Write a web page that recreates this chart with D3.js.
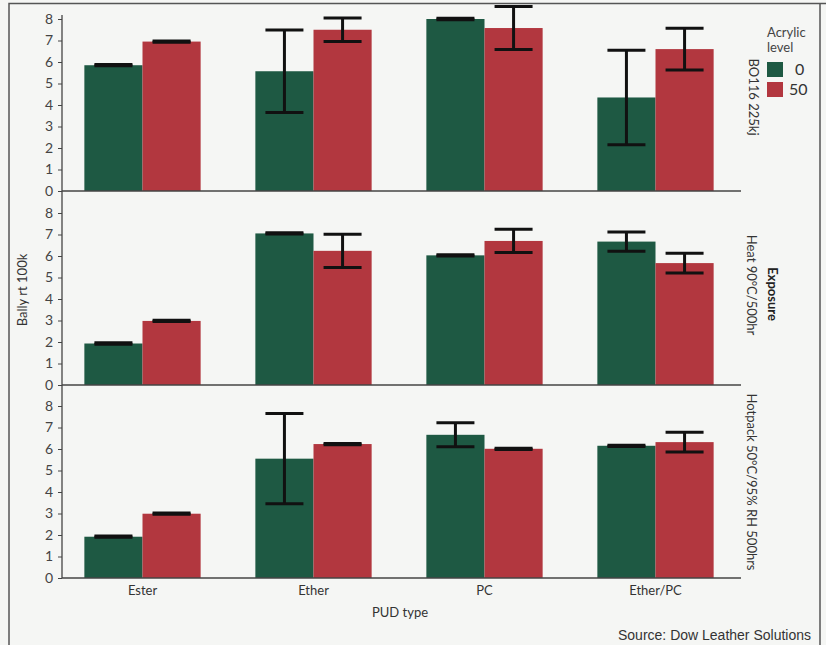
<!DOCTYPE html>
<html>
<head>
<meta charset="utf-8">
<script src="https://cdn.jsdelivr.net/npm/d3@7/dist/d3.min.js"></script>
<style>
  html, body { margin: 0; padding: 0; background: #f5f6f4; }
  svg { display: block; }
  text { font-family: Lato, "Open Sans", sans-serif; }
</style>
</head>
<body>
<svg id="chart" width="826" height="645"></svg>
<script>
// Bally flex (rt, 100k cycles) by PUD type, acrylic level and exposure
const categories = ["Ester", "Ether", "PC", "Ether/PC"];
const exposures = ["BO116 225kj", "Heat 90°C/500hr", "Hotpack 50°C/95% RH 500hrs"];
const acrylicLevels = ["0", "50"];

// mean values, one row per exposure, one entry per PUD type
const acrylic0Mean = [
  [5.85, 5.57, 8.00, 4.35],
  [1.93, 7.05, 6.03, 6.67],
  [1.92, 5.55, 6.66, 6.15]
];
const acrylic0Err = [
  [0.03, 1.92, 0.03, 2.20],
  [0.03, 0.03, 0.03, 0.45],
  [0.03, 2.10, 0.56, 0.03]
];
const acrylic50Mean = [
  [6.95, 7.50, 7.58, 6.60],
  [2.98, 6.24, 6.70, 5.67],
  [2.99, 6.23, 6.01, 6.32]
];
const acrylic50Err = [
  [0.03, 0.55, 1.00, 0.97],
  [0.03, 0.77, 0.54, 0.46],
  [0.03, 0.03, 0.03, 0.46]
];
const yTicks = [0, 1, 2, 3, 4, 5, 6, 7, 8];

const colors = { "0": "#1e5943", "50": "#b2373f" };
const svg = d3.select("#chart");

// page frame
svg.append("path")
  .attr("d", "M9,645 V3.5 H826 M820,3.5 V645")
  .attr("fill", "none").attr("stroke", "#555").attr("stroke-width", 1.5);

const axisX0 = 62, axisX1 = 741;
const panelBase = [191, 385, 578];   // pixel y of value 0 in each panel
const panelTop = [15, 191, 385];     // where each panel's y axis line starts
const unitPx = 21.5;

const x = d3.scaleBand().domain(categories).range([57, 741])
  .paddingInner(0.32).paddingOuter(0.16);
const xs = d3.scaleBand().domain(acrylicLevels).range([0, x.bandwidth()]);

exposures.forEach((exp, pi) => {
  const y = d3.scaleLinear().domain([0, 8])
    .range([panelBase[pi], panelBase[pi] - 8 * unitPx]);
  const g = svg.append("g");

  const rows = [];
  categories.forEach((c, ci) => {
    rows.push({ cat: c, lvl: "0", v: acrylic0Mean[pi][ci], e: acrylic0Err[pi][ci] });
    rows.push({ cat: c, lvl: "50", v: acrylic50Mean[pi][ci], e: acrylic50Err[pi][ci] });
  });

  // bars
  g.selectAll("rect.bar").data(rows).join("rect")
    .attr("class", "bar")
    .attr("x", d => x(d.cat) + xs(d.lvl))
    .attr("width", xs.bandwidth())
    .attr("y", d => y(d.v))
    .attr("height", d => y(0) - y(d.v))
    .attr("fill", d => colors[d.lvl]);

  // error bars
  const capHalf = 19;
  const eb = g.selectAll("g.err").data(rows).join("g").attr("class", "err")
    .attr("stroke", "#111").attr("stroke-width", 3).attr("fill", "none");
  eb.append("line")
    .attr("x1", d => x(d.cat) + xs(d.lvl) + xs.bandwidth() / 2)
    .attr("x2", d => x(d.cat) + xs(d.lvl) + xs.bandwidth() / 2)
    .attr("y1", d => y(d.v + d.e)).attr("y2", d => y(d.v - d.e));
  eb.append("line")
    .attr("x1", d => x(d.cat) + xs(d.lvl) + xs.bandwidth() / 2 - capHalf)
    .attr("x2", d => x(d.cat) + xs(d.lvl) + xs.bandwidth() / 2 + capHalf)
    .attr("y1", d => y(d.v + d.e)).attr("y2", d => y(d.v + d.e));
  eb.append("line")
    .attr("x1", d => x(d.cat) + xs(d.lvl) + xs.bandwidth() / 2 - capHalf)
    .attr("x2", d => x(d.cat) + xs(d.lvl) + xs.bandwidth() / 2 + capHalf)
    .attr("y1", d => y(d.v - d.e)).attr("y2", d => y(d.v - d.e));

  // y axis
  const ya = g.append("g").attr("transform", `translate(${axisX0},0)`)
    .call(d3.axisLeft(y).tickValues(yTicks).tickFormat(d3.format("d"))
      .tickSize(4).tickSizeOuter(0).tickPadding(5));
  ya.select(".domain").remove();
  ya.selectAll(".tick line").attr("stroke", "#444");
  ya.selectAll(".tick text").attr("font-size", 14).attr("fill", "#444");
  g.append("line")
    .attr("x1", axisX0).attr("x2", axisX0)
    .attr("y1", panelTop[pi]).attr("y2", y(0))
    .attr("stroke", "#444").attr("stroke-width", 1.3);

  // x axis baseline
  g.append("line")
    .attr("x1", axisX0).attr("x2", axisX1)
    .attr("y1", y(0)).attr("y2", y(0))
    .attr("stroke", "#444").attr("stroke-width", 1.3);

  if (pi === exposures.length - 1) {
    const xa = g.append("g").attr("transform", `translate(0,${y(0)})`)
      .call(d3.axisBottom(x).tickSize(0).tickPadding(8));
    xa.select(".domain").remove();
    xa.selectAll(".tick text").attr("font-size", 13).attr("fill", "#333");
  }
});

// facet labels on the right
const facetPos = [[749, 97], [747, 285], [747, 482]];
exposures.forEach((exp, i) => {
  svg.append("text")
    .attr("transform", `translate(${facetPos[i][0]},${facetPos[i][1]}) rotate(90)`)
    .attr("text-anchor", "middle").attr("font-size", 13).attr("fill", "#333")
    .text(exp);
});
svg.append("text")
  .attr("transform", "translate(768,294) rotate(90)")
  .attr("text-anchor", "middle").attr("font-size", 13).attr("font-weight", "bold")
  .attr("fill", "#222").text("Exposure");

// legend
const lg = svg.append("g").attr("transform", "translate(767,0)");
lg.append("text").attr("x", 0).attr("y", 37).attr("font-size", 13).attr("fill", "#444").text("Acrylic");
lg.append("text").attr("x", 0).attr("y", 52).attr("font-size", 13).attr("fill", "#444").text("level");
acrylicLevels.forEach((lvl, i) => {
  lg.append("rect").attr("x", 0).attr("y", 62 + i * 20).attr("width", 16).attr("height", 15)
    .attr("fill", colors[lvl]);
  lg.append("text").attr("x", i === 0 ? 28 : 22).attr("y", 75 + i * 20)
    .attr("font-size", 16).attr("fill", "#333").text(lvl);
});

// axis titles
svg.append("text")
  .attr("transform", "translate(27,290) rotate(-90)")
  .attr("text-anchor", "middle").attr("font-size", 13).attr("fill", "#333")
  .text("Bally rt 100k");
svg.append("text")
  .attr("x", 400).attr("y", 617).attr("text-anchor", "middle")
  .attr("font-size", 13).attr("fill", "#333").text("PUD type");

svg.append("text")
  .attr("x", 811).attr("y", 640).attr("text-anchor", "end")
  .attr("font-size", 14).attr("fill", "#333")
  .style("font-family", "'Liberation Sans', Arial, sans-serif")
  .text("Source: Dow Leather Solutions");
</script>
</body>
</html>
